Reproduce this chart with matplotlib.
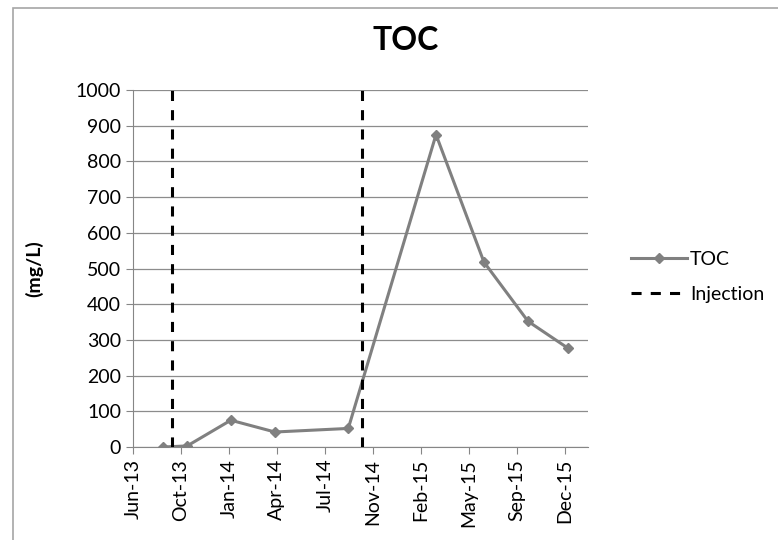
import datetime as dt
import matplotlib
matplotlib.use("Agg")
import matplotlib.pyplot as plt
import matplotlib.dates as mdates
from matplotlib.patches import Rectangle

plt.rcParams['font.family'] = ['Lato', 'DejaVu Sans']

# TOC samples (mg/L)
sample_dates = [dt.date(2013, 8, 26), dt.date(2013, 10, 15), dt.date(2014, 1, 14),
                dt.date(2014, 4, 16), dt.date(2014, 9, 16), dt.date(2015, 3, 18),
                dt.date(2015, 6, 26), dt.date(2015, 9, 26), dt.date(2015, 12, 18)]
toc = [0, 3, 75, 42, 52, 875, 518, 352, 277]

# injection events
injection_dates = [dt.date(2013, 9, 13), dt.date(2014, 10, 14)]
injection_span = [0, 1000]

# excel date axis: ticks every 100 days
axis_start = dt.date(2013, 6, 24)
tick_dates = [axis_start + dt.timedelta(days=100 * i) for i in range(10)]
axis_end = axis_start + dt.timedelta(days=949)

W, H = 778, 540
fig = plt.figure(figsize=(W / 100, H / 100), dpi=100)
ax = fig.add_axes([133 / W, 1 - 447 / H, (588 - 133) / W, (447 - 90) / H])

fig.patches.append(Rectangle((13 / W, -0.1), 1.2, 1 - 8 / H + 0.1, transform=fig.transFigure,
                             fill=False, edgecolor='#a6a6a6', linewidth=1.2))

ax.plot(sample_dates, toc, color='#808080', linewidth=2.2, marker='D', markersize=5,
        label='TOC', zorder=3)
for i, d in enumerate(injection_dates):
    ax.plot([d, d], injection_span, color='black', linewidth=2.2, linestyle=(0, (3.3, 3)),
            label='Injection' if i == 0 else None, zorder=4)

ax.set_xlim(axis_start, axis_end)
ax.set_ylim(0, 1000)
ax.set_yticks(range(0, 1001, 100))
ax.set_xticks(tick_dates)
ax.xaxis.set_major_formatter(mdates.DateFormatter('%b-%y'))
ax.tick_params(axis='x', rotation=90, labelsize=14, length=5, direction='out', color='#868686')
ax.tick_params(axis='y', labelsize=14, length=5, direction='out', color='#868686')
ax.grid(axis='y', color='#8c8c8c', linewidth=0.9)
ax.set_axisbelow(True)
for s in ['top', 'right']:
    ax.spines[s].set_visible(False)
ax.spines['left'].set_color('#868686')
ax.spines['bottom'].set_color('#868686')

ax.set_ylabel('(mg/L)', fontsize=14, fontweight='bold')
ax.yaxis.set_label_coords(-90 / (588 - 133), 0.5)
fig.text(406 / W, 1 - 40 / H, 'TOC', ha='center', va='center', fontsize=23, fontweight='bold')

ax.legend(loc='center left', bbox_to_anchor=(613 / W, 1 - 277 / H), bbox_transform=fig.transFigure,
          frameon=False, fontsize=14, handlelength=2.9, handletextpad=0.15, labelspacing=0.95)

fig.savefig('out.png', dpi=100)
